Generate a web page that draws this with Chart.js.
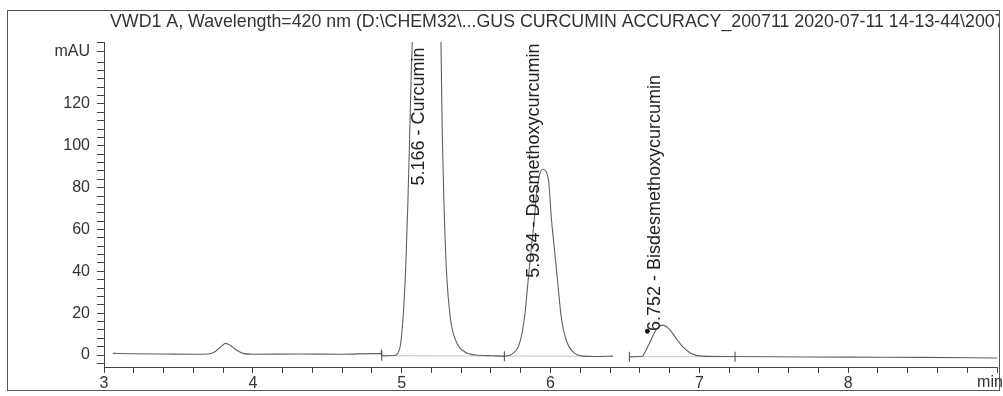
<!DOCTYPE html>
<html>
<head>
<meta charset="utf-8">
<script src="https://cdn.jsdelivr.net/npm/chart.js@4/dist/chart.umd.min.js"></script>
<style>
  html, body { margin: 0; padding: 0; background: #fff; }
  canvas { display: block; }
</style>
</head>
<body>
<canvas id="c" width="1003" height="396"></canvas>
<script>
// ---- data (time in min, signal in mAU) ----
const times = [3.06, 3.20, 3.40, 3.60, 3.70, 3.74, 3.78, 3.817, 3.85, 3.89, 3.935, 4.00, 4.30, 4.60, 4.80,
  4.862, 4.864, 4.866, 4.95, 4.987, 5.009, 5.027, 5.042, 5.054, 5.065, 5.072, 5.10, 5.13, 5.166, 5.20, 5.235,
  5.262, 5.273, 5.284, 5.300, 5.327, 5.367, 5.423, 5.50, 5.60, 5.69, 5.747, 5.792, 5.826, 5.848, 5.870, 5.893,
  5.908, 5.926, 5.948, 5.971, 5.989, 6.005, 6.027, 6.049, 6.072, 6.105, 6.150, 6.217, 6.329, 6.42, 6.47,
  6.53, 6.617, 6.642, 6.675, 6.709, 6.754, 6.799, 6.844, 6.888, 6.944, 7.022, 7.20, 7.50, 8.00, 8.50, 9.00];
const signal = [0.8, 0.6, 0.5, 0.4, 0.5, 1.3, 3.6, 5.6, 4.6, 2.4, 0.8, 0.4, 0.5, 0.4, 0.7,
  0.8, 2.6, -0.4, -0.2, 3.2, 17.5, 41.6, 73.3, 105, 137, 152, 317, 490, 590, 500, 299,
  160, 105, 73, 41.6, 17.7, 6.4, 1.6, 0.0, -0.3, -0.5, 0.8, 5.6, 18.3, 34.3, 50.2, 66.1,
  78.9, 86.0, 88.8, 87.7, 82.1, 66.1, 50.2, 34.3, 18.3, 7.2, 1.6, -0.5, -0.7, -0.5, null,
  -0.8, -0.6, 2.4, 7.2, 12.0, 14.3, 12.3, 8.0, 4.0, 0.8, -0.5, -0.7, -0.8, -1.0, -1.1, -1.4];

// integration baselines
const baseTimes = [4.866, 6.42, 6.47, 6.53, 7.24];
const baseValues = [-0.3, -0.6, null, -0.8, -0.8];

// integration event marks
const markTimes = [4.866, 5.69, 6.53, 7.24];
const markValues = [-0.3, -0.6, -0.8, -0.8];

// stray dot
const dotTimes = [6.651];
const dotValues = [11.4];

// peak annotations
const peakTimes = [5.166, 5.934, 6.752];
const peakNames = ["Curcumin", "Desmethoxycurcumin", "Bisdesmethoxycurcumin"];
const peakLabelStart = [81, 37, 11.5];

// axis ticks
const xMin = 3, xMax = 9;
const xTickLabels = [3, 4, 5, 6, 7, 8];
const yMin = -5.7, yMax = 149.6;
const yTickLabels = [0, 20, 40, 60, 80, 100, 120];
const yMinorStep = 4;
const yUnitTick = 145;

const titleText = "VWD1 A, Wavelength=420 nm (D:\\CHEM32\\...GUS CURCUMIN ACCURACY_200711 2020-07-11 14-13-44\\200711";

const FONT = '"Liberation Sans", Arial, sans-serif';

function pts(xs, ys) { return xs.map((x, i) => ({ x: x, y: ys[i] })); }

const yTicks = [];
for (let v = -4; v <= 140; v += yMinorStep) yTicks.push(v);
yTicks.push(yUnitTick);
yTicks.push(149.5);

const decor = {
  id: 'decor',
  beforeDraw(chart) {
    const ctx = chart.ctx;
    ctx.save();
    ctx.fillStyle = '#fff';
    ctx.fillRect(0, 0, chart.width, chart.height);
    ctx.restore();
  },
  afterDraw(chart) {
    const ctx = chart.ctx;
    const xs = chart.scales.x, ys = chart.scales.y;
    ctx.save();
    // frame
    ctx.strokeStyle = '#555';
    ctx.lineWidth = 1;
    ctx.strokeRect(7.5, 10.5, 992, 380);
    // title clipped to frame
    ctx.save();
    ctx.beginPath();
    ctx.rect(8, 11, 991, 40);
    ctx.clip();
    ctx.fillStyle = '#333';
    ctx.font = '17.8px ' + FONT;
    ctx.textBaseline = 'alphabetic';
    ctx.textAlign = 'left';
    ctx.fillText(titleText, 110, 27);
    ctx.restore();
    // "min" unit label
    ctx.fillStyle = '#333';
    ctx.font = '16px ' + FONT;
    ctx.textAlign = 'center';
    ctx.textBaseline = 'middle';
    ctx.fillText('min', 990, 383);
    // peak labels (rotated)
    ctx.font = '18px ' + FONT;
    ctx.fillStyle = '#222';
    ctx.textAlign = 'left';
    ctx.textBaseline = 'alphabetic';
    for (let i = 0; i < peakTimes.length; i++) {
      const px = xs.getPixelForValue(peakTimes[i]) - 2;
      const py = ys.getPixelForValue(peakLabelStart[i]);
      ctx.save();
      ctx.translate(px, py);
      ctx.rotate(-Math.PI / 2);
      ctx.fillText(peakTimes[i].toFixed(3) + ' - ' + peakNames[i], 0, 0);
      ctx.restore();
    }
    ctx.restore();
  }
};

new Chart(document.getElementById('c'), {
  type: 'line',
  data: {
    datasets: [
      {
        label: 'VWD1 A',
        data: pts(times, signal),
        borderColor: '#606060',
        borderWidth: 1.1,
        pointRadius: 0,
        cubicInterpolationMode: 'monotone',
        spanGaps: false,
        order: 1
      },
      {
        label: 'baseline',
        data: pts(baseTimes, baseValues),
        borderColor: '#c4c4c4',
        borderWidth: 1,
        pointRadius: 0,
        spanGaps: false,
        order: 2
      },
      {
        label: 'events',
        data: pts(markTimes, markValues),
        showLine: false,
        pointStyle: 'line',
        rotation: 90,
        pointRadius: 5,
        borderColor: '#444',
        borderWidth: 1,
        order: 0
      },
      {
        label: 'dot',
        data: pts(dotTimes, dotValues),
        showLine: false,
        pointStyle: 'circle',
        pointRadius: 2,
        backgroundColor: '#111',
        borderColor: '#111',
        order: 0
      }
    ]
  },
  options: {
    responsive: false,
    animation: false,
    devicePixelRatio: 1,
    layout: { padding: { top: 42, right: 5, left: 0, bottom: 0 } },
    plugins: { legend: { display: false }, tooltip: { enabled: false }, title: { display: false } },
    scales: {
      x: {
        type: 'linear',
        min: xMin, max: xMax,
        afterFit(s) { s.height = 29; },
        border: { display: true, color: '#444', width: 1 },
        grid: { drawOnChartArea: false, drawTicks: true, tickLength: 6, color: '#444' },
        ticks: {
          stepSize: 0.2,
          autoSkip: false,
          maxRotation: 0,
          padding: 1,
          color: '#333',
          font: { family: FONT, size: 16 },
          callback(v) {
            const r = Math.round(v);
            return (Math.abs(v - r) < 1e-6 && xTickLabels.includes(r)) ? String(r) : '';
          }
        }
      },
      y: {
        min: yMin, max: yMax,
        afterFit(s) { s.width = 104; },
        afterBuildTicks(s) { s.ticks = yTicks.map(v => ({ value: v })); },
        border: { display: true, color: '#444', width: 1 },
        grid: { drawOnChartArea: false, drawTicks: true, tickLength: 7, color: '#444' },
        ticks: {
          autoSkip: false,
          padding: 7,
          color: '#333',
          font: { family: FONT, size: 16 },
          callback(v) {
            if (Math.abs(v - yUnitTick) < 1e-6) return 'mAU';
            return yTickLabels.includes(v) ? String(v) : '';
          }
        }
      }
    }
  },
  plugins: [decor]
});
</script>
</body>
</html>
